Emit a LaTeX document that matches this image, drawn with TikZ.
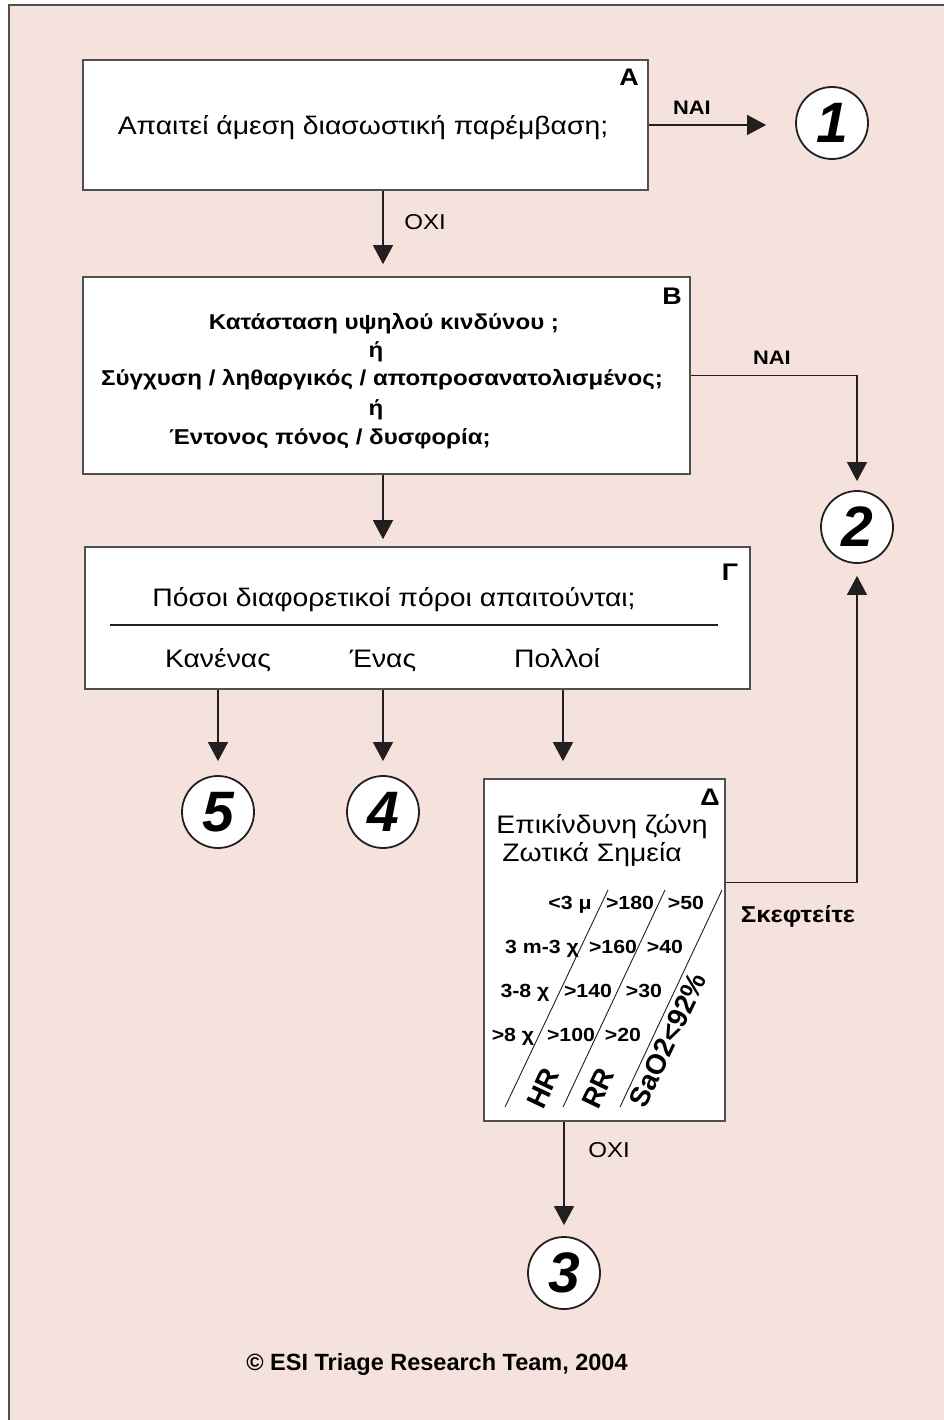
\documentclass[tikz,border=0pt]{standalone}
\usepackage{fontspec}
\setmainfont{Liberation Sans}
\newfontfamily\wfam[FakeStretch=1.12]{Liberation Sans}
\usetikzlibrary{arrows.meta,calc}
\definecolor{sheet}{RGB}{246,226,221}
\definecolor{ink}{RGB}{35,31,32}
\definecolor{rule}{RGB}{80,80,80}
\newcommand{\fsz}[1]{\fontsize{#1}{#1}\selectfont}

\begin{document}
\begin{tikzpicture}[x=1pt,y=-1pt,
  frame/.style={draw=rule,line width=1.6pt,fill=sheet},
  box/.style={draw=rule,line width=1.6pt,fill=white,inner sep=0pt},
  flow/.style={draw=ink,line width=1.3pt,-{Triangle[width=20pt,length=19pt]}},
  link/.style={draw=ink,line width=1.3pt},
  numc/.style={circle,draw=ink,line width=1.8pt,fill=white,minimum size=72pt,
    inner sep=0pt,font=\fsz{57}\bfseries\itshape},
  txt/.style={inner sep=0pt,text depth=0pt},
  corner/.style={txt,text height=17.3pt,font=\wfam\fsz{24}\bfseries},
  tag/.style={txt,text height=14pt,font=\wfam\fsz{19.5}\bfseries},
  plain/.style={txt,text height=15.5pt,font=\wfam\fsz{21.5}},
  qtext/.style={txt,text height=18.2pt,font=\wfam\fsz{25.3}},
  btext/.style={txt,text height=15.5pt,font=\wfam\fsz{21.5}\bfseries},
  cell/.style={txt,text height=13.7pt,font=\wfam\fsz{19}\bfseries},
  vital/.style={inner sep=0pt,font=\fsz{28}\bfseries,rotate=64.6},
  slash/.style={draw=ink,line width=0.9pt}
]
\useasboundingbox (0,0) rectangle (943,1420);
\draw[frame] (9,5) rectangle (960,1440);

% decision boxes
\node[box,minimum width=565pt,minimum height=130pt] (A) at (365.5,125) {};
\node[box,minimum width=607pt,minimum height=197pt] (B) at (386.5,375.5) {};
\node[box,minimum width=665pt,minimum height=142pt] (G) at (417.5,618) {};
\node[box,minimum width=241pt,minimum height=342pt] (D) at (604.5,950) {};

% box letters
\node[corner] (lA) at (629,77) {A};
\node[corner] (lB) at (672,296) {B};
\node[corner] (lG) at (730,572) {Γ};
\node[corner] (lD) at (710,797) {Δ};

% box A
\node[qtext] (tA) at (363,125) {Απαιτεί άμεση διασωστική παρέμβαση;};

% box B
\node[btext] (tB1) at (384,322) {Κατάσταση υψηλού κινδύνου ;};
\node[btext] (tB2) at (376,350) {ή};
\node[btext] (tB3) at (382,378) {Σύγχυση / ληθαργικός / αποπροσανατολισμένος;};
\node[btext] (tB4) at (376,408) {ή};
\node[btext] (tB5) at (330,437) {Έντονος πόνος / δυσφορία;};

% box Gamma
\node[qtext] (tG) at (394,597) {Πόσοι διαφορετικοί πόροι απαιτούνται;};
\draw[link] (110,625) -- (718,625);
\node[qtext] (g0) at (218,658) {Κανένας};
\node[qtext] (g1) at (383,658) {Ένας};
\node[qtext] (g2) at (557,658) {Πολλοί};

% box Delta
\node[qtext] (tD1) at (602,824) {Επικίνδυνη ζώνη};
\node[qtext] (tD2) at (592,852) {Ζωτικά Σημεία};

% vital-sign table
\draw[slash] (608,890) -- (505,1107);
\draw[slash] (665,890) -- (563,1107);
\draw[slash] (722,890) -- (620,1107);
\node[cell] (r1a) at (570,903) {<3 μ};
\node[cell] (r1b) at (630,903) {>180};
\node[cell] (r1c) at (686,903) {>50};
\node[cell] (r2a) at (542,947) {3 m-3 χ};
\node[cell] (r2b) at (613,947) {>160};
\node[cell] (r2c) at (665,947) {>40};
\node[cell] (r3a) at (525,991) {3-8 χ};
\node[cell] (r3b) at (588,991) {>140};
\node[cell] (r3c) at (644,991) {>30};
\node[cell] (r4a) at (513,1035) {>8 χ};
\node[cell] (r4b) at (571,1035) {>100};
\node[cell] (r4c) at (623,1035) {>20};
\node[vital] (hr) at (543,1088) {HR};
\node[vital] (rr) at (598,1088) {RR};
\node[vital] (sa) at (668,1040) {SaO2<92\%};

% outcome circles
\node[numc] (c1) at (832,123) {1};
\node[numc] (c2) at (857,527) {2};
\node[numc] (c3) at (564,1273) {3};
\node[numc] (c4) at (383,812) {4};
\node[numc] (c5) at (218,812) {5};

% connectors
\coordinate (col) at (383,0);
\coordinate (dcol) at (563,0);
\draw[flow,shorten >=29pt] (A.east) -- (A.east -| c1.west);
\draw[flow,shorten >=12pt] (A.south -| col) -- (B.north -| col);
\draw[flow,shorten >=9pt] (B.east) -- (B.east -| c2) -- (c2.north);
\draw[flow,shorten >=7pt] (B.south -| col) -- (G.north -| col);
\draw[flow,shorten >=14pt] (G.south -| c5) -- (c5.north);
\draw[flow,shorten >=14pt] (G.south -| c4) -- (c4.north);
\draw[flow,shorten >=17pt] (G.south -| dcol) -- (D.north -| dcol);
\draw[flow,shorten >=12pt] ($(D.north east)+(0,104)$) -| (c2.south);
\draw[flow,shorten >=11pt] (D.south -| c3) -- (c3.north);

% connector labels
\node[tag] (nai1) at (692,108) {NAI};
\node[plain] (oxi1) at (425,222) {OXI};
\node[tag] (nai2) at (772,357) {NAI};
\node[tag,font=\wfam\fsz{23}\bfseries,text height=16.5pt] (think) at (798,914) {Σκεφτείτε};
\node[plain] (oxi2) at (609,1150) {OXI};

% credit line
\node[txt,text height=17pt,font=\fsz{23.5}\bfseries] (credit) at (437,1362) {© ESI Triage Research Team, 2004};
\end{tikzpicture}
\end{document}
